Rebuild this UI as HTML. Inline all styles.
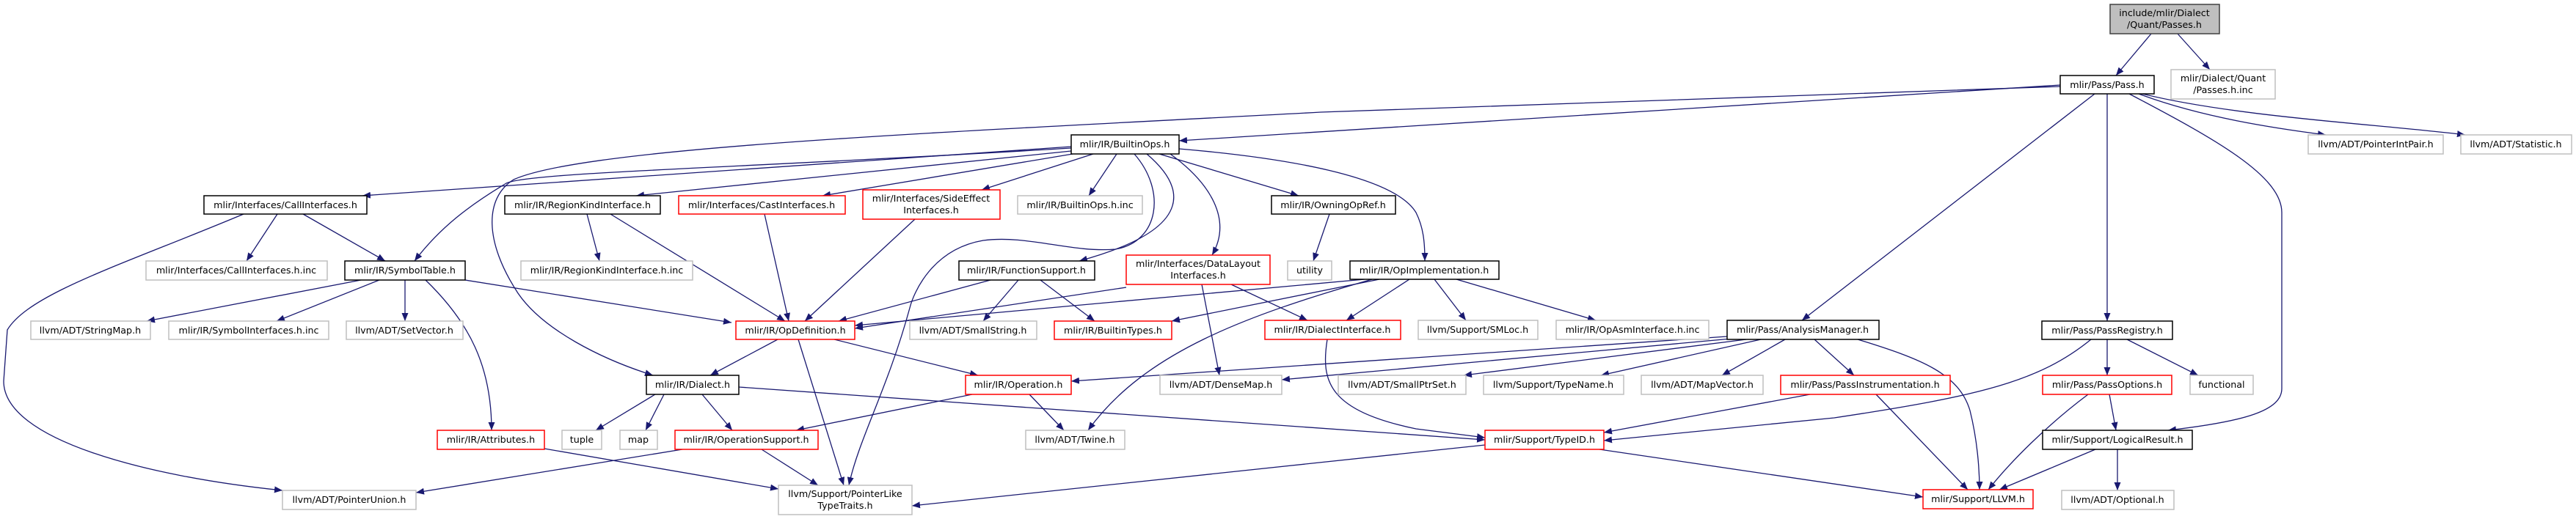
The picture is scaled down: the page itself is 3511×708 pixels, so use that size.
<!DOCTYPE html>
<html><head><meta charset="utf-8"><style>
html,body{margin:0;padding:0;background:#fff;width:3511px;height:708px;overflow:hidden}
svg{display:block}
text{font-family:"DejaVu Sans","Liberation Sans",sans-serif;font-size:12.7px;fill:#000;text-anchor:middle}
.e{fill:none;stroke:#191970;stroke-width:1.3;marker-end:url(#a)}
.k{fill:#fff;stroke:#000;stroke-width:1.5}
.g{fill:#fff;stroke:#bfbfbf;stroke-width:1.5}
.r{fill:#fff;stroke:#ff0000;stroke-width:1.5}
</style></head><body>
<svg width="3511" height="708" viewBox="0 0 3511 708" xmlns="http://www.w3.org/2000/svg">
<defs><marker id="a" markerUnits="userSpaceOnUse" markerWidth="12" markerHeight="9" refX="11" refY="4.5" orient="auto"><path d="M0,0 L11,4.5 L0,9 z" fill="#191970"/></marker></defs>
<g>
<path class="e" d="M2932,46 L2884,103"/>
<path class="e" d="M2968,46 L3012,95"/>
<path class="e" d="M2808,116 L1607,192"/>
<path class="e" d="M2915,128 C3000,160 3100,175 3170,184"/>
<path class="e" d="M2920,128 C3050,160 3250,170 3360,184"/>
<path class="e" d="M2855,128 L2456,437"/>
<path class="e" d="M2872,128 L2872,438"/>
<path class="e" d="M2902,128 C3020,190 3110,240 3110,290 L3110,530 C3110,560 3060,575 2955,587"/>
<path class="e" d="M2808,118 L1800,153 C1300,180 800,200 700,245 C660,270 660,330 706,400 C740,450 820,490 890,512"/>
<path class="e" d="M1460,200 L494,267"/>
<path class="e" d="M1460,202 C1000,230 720,235 690,250 C640,280 600,310 565,356"/>
<path class="e" d="M1460,206 L867,267"/>
<path class="e" d="M1462,210 L1121,267"/>
<path class="e" d="M1490,210 L1338,259"/>
<path class="e" d="M1522,210 L1484,267"/>
<path class="e" d="M1580,210 L1770,267"/>
<path class="e" d="M1607,203 C1750,215 1900,240 1930,290 C1940,310 1942,330 1942,356"/>
<path class="e" d="M1595,210 C1650,250 1680,300 1652,348"/>
<path class="e" d="M1563,210 C1610,250 1640,310 1471,356"/>
<path class="e" d="M1546,210 C1590,260 1580,330 1520,340 C1460,345 1400,320 1340,328 C1270,340 1245,400 1240,420 C1210,530 1170,600 1157,662"/>
<path class="e" d="M378,292 L336,356"/>
<path class="e" d="M413,292 L525,356"/>
<path class="e" d="M332,292 C170,360 40,400 10,450 L5,520 C5,600 200,650 385,669"/>
<path class="e" d="M492,382 L200,438"/>
<path class="e" d="M517,382 L377,438"/>
<path class="e" d="M552,382 L552,438"/>
<path class="e" d="M580,382 C640,440 670,500 670,587"/>
<path class="e" d="M634,382 L997,440"/>
<path class="e" d="M800,292 L817,356"/>
<path class="e" d="M832,292 L1070,438"/>
<path class="e" d="M1042,292 L1075,438"/>
<path class="e" d="M1247,299 L1097,438"/>
<path class="e" d="M1350,382 L1143,438"/>
<path class="e" d="M1388,382 L1340,438"/>
<path class="e" d="M1418,382 L1492,438"/>
<path class="e" d="M1535,392 L1165,448"/>
<path class="e" d="M1638,388 L1662,512"/>
<path class="e" d="M1678,388 L1782,437"/>
<path class="e" d="M1812,292 L1790,356"/>
<path class="e" d="M1860,381 L1165,444"/>
<path class="e" d="M1880,381 L1597,438"/>
<path class="e" d="M1921,381 L1835,437"/>
<path class="e" d="M1870,381 C1700,430 1560,480 1483,587"/>
<path class="e" d="M1955,381 L1998,437"/>
<path class="e" d="M1985,381 L2175,437"/>
<path class="e" d="M1060,463 L968,512"/>
<path class="e" d="M1137,463 L1333,512"/>
<path class="e" d="M1088,463 L1150,662"/>
<path class="e" d="M893,538 L812,587"/>
<path class="e" d="M905,538 L880,587"/>
<path class="e" d="M957,538 L998,587"/>
<path class="e" d="M1007,528 L2024,600"/>
<path class="e" d="M1325,538 L1085,587"/>
<path class="e" d="M1403,538 L1450,587"/>
<path class="e" d="M930,613 L567,672"/>
<path class="e" d="M1038,613 L1115,662"/>
<path class="e" d="M742,612 L1061,667"/>
<path class="e" d="M2354,459 L1460,520"/>
<path class="e" d="M2360,462 L1747,518"/>
<path class="e" d="M2380,463 L1995,512"/>
<path class="e" d="M2400,463 L2182,512"/>
<path class="e" d="M2433,463 L2347,512"/>
<path class="e" d="M2473,463 L2527,512"/>
<path class="e" d="M2532,463 C2620,490 2670,510 2685,560 C2695,600 2698,640 2698,668"/>
<path class="e" d="M1809,463 C1800,520 1810,560 1930,585 L2024,597"/>
<path class="e" d="M2467,538 L2186,590"/>
<path class="e" d="M2557,538 L2682,668"/>
<path class="e" d="M2850,463 C2780,520 2700,540 2500,570 L2186,601"/>
<path class="e" d="M2872,463 L2872,512"/>
<path class="e" d="M2899,463 L2996,512"/>
<path class="e" d="M2875,538 L2884,587"/>
<path class="e" d="M2846,538 C2790,580 2740,630 2710,668"/>
<path class="e" d="M2856,613 L2725,668"/>
<path class="e" d="M2886,613 L2886,669"/>
<path class="e" d="M2180,613 L2621,678"/>
<path class="e" d="M2024,607 L1243,690"/>
</g>
<g>
<rect x="2876" y="6" width="149" height="40" fill="#bfbfbf" stroke="#404040" stroke-width="1.5"/><text x="2950" y="22">include/mlir/Dialect</text><text x="2950" y="38">/Quant/Passes.h</text>
<rect class="k" x="2808" y="103" width="128" height="25"/><text x="2872" y="120">mlir/Pass/Pass.h</text>
<rect class="g" x="2959" y="95" width="142" height="40"/><text x="3030" y="111">mlir/Dialect/Quant</text><text x="3030" y="127">/Passes.h.inc</text>
<rect class="k" x="1460" y="184" width="147" height="26"/><text x="1533" y="201">mlir/IR/BuiltinOps.h</text>
<rect class="g" x="3146" y="184" width="184" height="26"/><text x="3238" y="201">llvm/ADT/PointerIntPair.h</text>
<rect class="g" x="3354" y="184" width="151" height="26"/><text x="3429" y="201">llvm/ADT/Statistic.h</text>
<rect class="k" x="278" y="267" width="222" height="25"/><text x="389" y="284">mlir/Interfaces/CallInterfaces.h</text>
<rect class="k" x="688" y="267" width="212" height="25"/><text x="794" y="284">mlir/IR/RegionKindInterface.h</text>
<rect class="r" x="925" y="267" width="227" height="25"/><text x="1038" y="284">mlir/Interfaces/CastInterfaces.h</text>
<rect class="r" x="1176" y="259" width="187" height="40"/><text x="1269" y="275">mlir/Interfaces/SideEffect</text><text x="1269" y="291">Interfaces.h</text>
<rect class="g" x="1387" y="267" width="170" height="25"/><text x="1472" y="284">mlir/IR/BuiltinOps.h.inc</text>
<rect class="k" x="1733" y="267" width="169" height="25"/><text x="1817" y="284">mlir/IR/OwningOpRef.h</text>
<rect class="g" x="199" y="356" width="247" height="26"/><text x="322" y="373">mlir/Interfaces/CallInterfaces.h.inc</text>
<rect class="k" x="470" y="356" width="164" height="26"/><text x="552" y="373">mlir/IR/SymbolTable.h</text>
<rect class="g" x="710" y="356" width="234" height="26"/><text x="827" y="373">mlir/IR/RegionKindInterface.h.inc</text>
<rect class="k" x="1307" y="356" width="185" height="26"/><text x="1399" y="373">mlir/IR/FunctionSupport.h</text>
<rect class="r" x="1535" y="348" width="196" height="40"/><text x="1633" y="364">mlir/Interfaces/DataLayout</text><text x="1633" y="380">Interfaces.h</text>
<rect class="g" x="1755" y="356" width="60" height="26"/><text x="1785" y="373">utility</text>
<rect class="k" x="1840" y="356" width="203" height="25"/><text x="1941" y="373">mlir/IR/OpImplementation.h</text>
<rect class="g" x="42" y="438" width="163" height="25"/><text x="123" y="455">llvm/ADT/StringMap.h</text>
<rect class="g" x="230" y="438" width="218" height="25"/><text x="339" y="455">mlir/IR/SymbolInterfaces.h.inc</text>
<rect class="g" x="472" y="438" width="159" height="25"/><text x="551" y="455">llvm/ADT/SetVector.h</text>
<rect class="r" x="1003" y="438" width="162" height="25"/><text x="1084" y="455">mlir/IR/OpDefinition.h</text>
<rect class="g" x="1240" y="438" width="173" height="25"/><text x="1326" y="455">llvm/ADT/SmallString.h</text>
<rect class="r" x="1437" y="438" width="160" height="25"/><text x="1517" y="455">mlir/IR/BuiltinTypes.h</text>
<rect class="r" x="1724" y="437" width="185" height="26"/><text x="1816" y="454">mlir/IR/DialectInterface.h</text>
<rect class="g" x="1933" y="437" width="163" height="26"/><text x="2014" y="454">llvm/Support/SMLoc.h</text>
<rect class="g" x="2121" y="437" width="208" height="26"/><text x="2225" y="454">mlir/IR/OpAsmInterface.h.inc</text>
<rect class="k" x="2354" y="437" width="207" height="26"/><text x="2457" y="454">mlir/Pass/AnalysisManager.h</text>
<rect class="k" x="2783" y="438" width="178" height="25"/><text x="2872" y="455">mlir/Pass/PassRegistry.h</text>
<rect class="k" x="881" y="512" width="126" height="26"/><text x="944" y="529">mlir/IR/Dialect.h</text>
<rect class="r" x="1316" y="512" width="144" height="26"/><text x="1388" y="529">mlir/IR/Operation.h</text>
<rect class="g" x="1581" y="512" width="166" height="26"/><text x="1664" y="529">llvm/ADT/DenseMap.h</text>
<rect class="g" x="1824" y="512" width="174" height="26"/><text x="1911" y="529">llvm/ADT/SmallPtrSet.h</text>
<rect class="g" x="2022" y="512" width="191" height="26"/><text x="2117" y="529">llvm/Support/TypeName.h</text>
<rect class="g" x="2237" y="512" width="166" height="26"/><text x="2320" y="529">llvm/ADT/MapVector.h</text>
<rect class="r" x="2427" y="512" width="231" height="26"/><text x="2542" y="529">mlir/Pass/PassInstrumentation.h</text>
<rect class="r" x="2784" y="512" width="176" height="26"/><text x="2872" y="529">mlir/Pass/PassOptions.h</text>
<rect class="g" x="2985" y="512" width="86" height="26"/><text x="3028" y="529">functional</text>
<rect class="r" x="596" y="587" width="146" height="26"/><text x="669" y="604">mlir/IR/Attributes.h</text>
<rect class="g" x="766" y="587" width="54" height="26"/><text x="793" y="604">tuple</text>
<rect class="g" x="845" y="587" width="51" height="26"/><text x="870" y="604">map</text>
<rect class="r" x="920" y="587" width="195" height="26"/><text x="1017" y="604">mlir/IR/OperationSupport.h</text>
<rect class="g" x="1398" y="587" width="135" height="26"/><text x="1465" y="604">llvm/ADT/Twine.h</text>
<rect class="r" x="2024" y="587" width="162" height="26"/><text x="2105" y="604">mlir/Support/TypeID.h</text>
<rect class="k" x="2784" y="587" width="204" height="26"/><text x="2886" y="604">mlir/Support/LogicalResult.h</text>
<rect class="g" x="385" y="669" width="182" height="26"/><text x="476" y="686">llvm/ADT/PointerUnion.h</text>
<rect class="g" x="1061" y="662" width="182" height="40"/><text x="1152" y="678">llvm/Support/PointerLike</text><text x="1152" y="694">TypeTraits.h</text>
<rect class="r" x="2621" y="668" width="150" height="26"/><text x="2696" y="685">mlir/Support/LLVM.h</text>
<rect class="g" x="2810" y="669" width="153" height="26"/><text x="2886" y="686">llvm/ADT/Optional.h</text>
</g>
</svg>
</body></html>
